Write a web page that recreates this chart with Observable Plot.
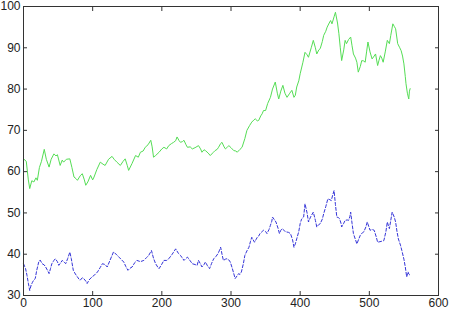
<!DOCTYPE html>
<html>
<head>
<meta charset="utf-8">
<script src="https://cdn.jsdelivr.net/npm/d3@7"></script>
<script src="https://cdn.jsdelivr.net/npm/@observablehq/plot@0.6"></script>
<style>
  html, body { margin: 0; padding: 0; background: #fff; }
  svg { overflow: visible; display: block; }
</style>
</head>
<body>
<div id="chart"></div>
<script>
const xTicks = [0, 100, 200, 300, 400, 500, 600];
const yTicks = [30, 40, 50, 60, 70, 80, 90, 100];

const greenX = [0,4,7,9,12,15,18,20,23,26,30,33,37,40,44,47,49,53,56,58,62,67,70,73,76,78,82,85,88,90,93,97,100,102,106,111,115,118,123,128,131,135,140,144,147,150,152,157,162,166,169,173,176,180,184,186,188,191,196,200,203,207,210,214,217,220,222,225,227,230,232,235,237,241,244,248,253,256,258,261,263,267,270,274,277,280,282,285,287,290,292,295,297,300,304,307,309,313,316,320,323,327,330,333,335,338,340,343,345,347,350,353,357,360,364,367,369,372,375,378,381,385,388,391,393,395,398,400,404,407,410,412,416,419,422,424,427,429,432,434,437,439,442,444,446,449,451,454,456,458,460,463,465,467,470,473,475,477,480,482,484,487,489,492,494,496,498,501,504,507,509,512,514,516,518,520,523,526,529,531,534,536,538,541,544,546,548,550,552,553,555,557,558,559];
const greenY = [63.1,62.5,58,55.9,57.8,57.5,58.5,57.9,61,62.5,65.4,63,61.1,63,64.3,63.8,64.1,61.5,62.8,62.3,63,63.1,61,58.7,58.3,57.9,59,59.5,58,56.7,57.5,59.1,58,58.7,60.5,62.3,61.8,61.5,63,63.7,63,62.3,61.5,62.5,63.1,61.5,60.3,62,63.9,63.5,64.7,65,65.9,66.5,67.6,66,63.5,63.9,64.7,65.5,65.9,65.5,66.3,66.8,67.1,67.5,68.4,67.5,67.1,67.3,67.6,66.5,65.9,66,65.5,65.8,66.3,65.5,64.7,65.3,65.1,64.5,63.9,64.6,65.1,65.4,65.9,66.8,67.1,66,65.5,66,66.3,65.8,65.1,65,64.7,65.4,65.9,68,70,71.2,72,72.5,72.8,72.3,72.4,73.5,74,74.8,74.8,76.5,78,80,81.7,79,77.6,79.5,80.9,79,78,79,79.7,78,78.5,80.5,82,83.7,86.5,88.9,88.3,87.7,90,91.8,90,88.5,89.5,89.8,91.5,93,94,95,96,96.6,95.8,97.5,98.6,96,93.4,90,86.9,89.5,91.8,91,92,92.6,90.5,88.5,87.5,86.5,84.1,85.5,86.9,86.8,86.5,89,91.4,89,87.3,88,88.5,85.7,87,88.1,87.5,86.5,89,91.8,91,93,95.8,95.2,94.6,91,90,89.3,88,86.1,83,81.3,79,77.6,79.5,80.1];

const blueX = [0,3,5,7,9,11,13,15,17,19,22,24,27,30,32,35,37,39,41,44,46,49,51,54,56,58,61,64,67,69,72,75,78,80,82,85,87,90,92,95,99,103,107,111,114,118,121,125,130,134,138,142,145,148,151,154,157,161,164,169,174,178,181,183,185,188,191,194,196,200,203,207,210,215,220,224,227,230,232,235,237,241,244,248,251,253,256,258,261,263,266,269,272,275,278,281,283,285,287,289,292,294,297,299,302,304,306,309,311,313,315,318,320,323,326,328,330,332,334,336,338,340,342,345,347,350,352,355,357,359,360,363,365,368,370,372,374,377,380,383,386,389,391,393,395,398,400,402,405,407,410,412,415,419,422,424,427,429,432,434,437,440,443,445,447,449,451,453,455,457,459,460,463,465,468,470,472,473,475,477,480,482,485,487,490,492,495,497,499,501,504,507,510,512,517,521,524,526,528,529,531,533,536,538,540,542,545,547,550,552,554,556,557,559];
const blueY = [37.7,36.5,34.9,33,31.2,32.5,33.2,33.8,34.1,36,38.1,38.6,37.7,37.4,36.9,36,35.3,36.5,37.7,38.5,38.9,38.2,37.3,38,38.5,38.2,37.7,39,40.5,39,36.1,35.2,34.5,34,33.7,34.3,34.1,33.5,32.9,33.8,34.5,35,35.7,36.8,37.7,37.5,36.9,38.5,40.5,40,39.3,38.6,38.1,37,36.1,36.6,36.9,38,38.5,38.2,38.5,39.2,39.7,40.3,40.9,39,37.7,36.9,36.5,37.6,38.5,38.5,38.9,40,41.3,40.2,39.7,39,38.5,39,39.3,38.4,37.7,37.5,37.3,38.5,37.6,36.9,37.5,38.1,37.2,36.5,37.8,38.9,39.4,40.1,40.8,41.7,40,38.5,38.8,38.9,38.6,38.1,36.5,35.3,34.1,34.8,35.3,35.1,35.7,37.8,39.7,40.8,41.7,43,44.1,43.5,42.9,43.5,44.1,44.4,45,45.5,45.8,45.5,45,46,47,48,49,48.3,47.8,46.3,45,45.8,46.2,45.7,45.4,45.3,45,43.5,41.7,42.5,43.7,45.5,47.4,48.5,49,52.2,50,47.8,49,50.2,48.2,46.6,47.2,47.4,48.5,49.8,51.5,53.4,53.2,53,54.3,55.4,52,49,48.9,48.6,47.5,46.6,47.5,48.2,48.3,48.2,49.2,50.2,47.5,45,43.5,42.5,43.8,44.6,45.2,45.4,46.6,47.8,46.8,45.8,46,45.8,44.2,42.9,43.1,43.3,45.5,47.8,46.7,46.2,48.2,50.2,49,47.8,45.5,43.7,42.2,40.9,38.8,36.9,34.5,35.7,35.2,34.9];

const green = greenX.map((x, i) => ({x, y: greenY[i]}));
const blue = blueX.map((x, i) => ({x, y: blueY[i]}));

const chart = Plot.plot({
  width: 450,
  height: 316,
  marginLeft: 23,
  marginRight: 12,
  marginTop: 6,
  marginBottom: 21,
  style: {fontFamily: "'Liberation Sans', Arial, sans-serif", fontSize: "12px", color: "#222", background: "#fff"},
  x: {domain: [0, 600]},
  y: {domain: [30, 100]},
  marks: [
    Plot.line(green, {x: "x", y: "y", stroke: "#55dd55", strokeWidth: 1}),
    Plot.line(blue, {x: "x", y: "y", stroke: "#3535d8", strokeWidth: 1, strokeDasharray: "3,2"}),
    Plot.axisX(xTicks, {anchor: "bottom", tickSize: -4, tickPadding: 7, label: null, stroke: "#333"}),
    Plot.axisX(xTicks, {anchor: "top", tickSize: -4, tickFormat: () => "", label: null, stroke: "#333"}),
    Plot.axisY(yTicks, {anchor: "left", tickSize: -4, tickPadding: 7, label: null, stroke: "#333"}),
    Plot.axisY(yTicks, {anchor: "right", tickSize: -4, tickFormat: () => "", label: null, stroke: "#333"}),
    Plot.frame({stroke: "#333"})
  ]
});
document.getElementById("chart").appendChild(chart);
</script>
</body>
</html>
